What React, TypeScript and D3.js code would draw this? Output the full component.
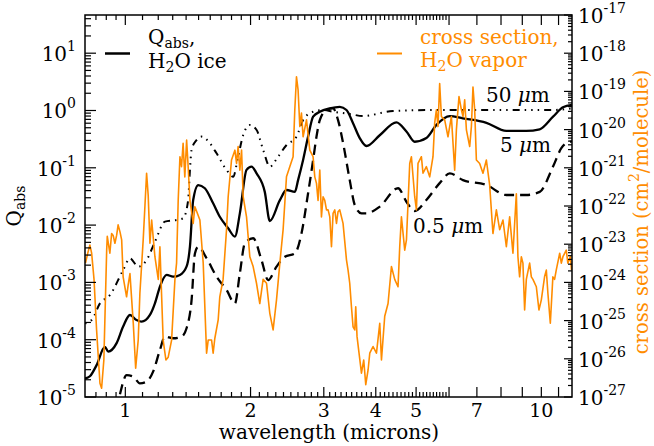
import React from 'react';
import * as d3 from 'd3';

const ORANGE = '#ff8c00';
const FONT = 'DejaVu Serif';

// Absorption efficiency of H2O ice grains: [wavelength (microns), Q_abs]
const ice50um: [number, number][] = [
  [0.8, 1.93e-4], [0.83, 2.2e-4], [0.869, 4.3e-4], [0.918, 6.0e-4], [0.988, 1.64e-3], [1.026, 2.64e-3],
  [1.074, 1.88e-3], [1.125, 2.46e-3], [1.178, 5.1e-3], [1.245, 0.0115], [1.328, 0.0123], [1.377, 0.0131],
  [1.416, 0.0274], [1.43, 0.092], [1.443, 0.205], [1.483, 0.305], [1.525, 0.35], [1.597, 0.268],
  [1.657, 0.179], [1.751, 0.092], [1.816, 0.07], [1.867, 0.156], [1.92, 0.373], [1.992, 0.558],
  [2.068, 0.457], [2.145, 0.205], [2.225, 0.1045], [2.329, 0.156], [2.441, 0.25], [2.579, 0.349],
  [2.675, 0.683], [2.828, 0.953], [2.988, 1.02], [3.158, 0.953], [3.463, 0.87], [3.728, 0.8],
  [4.4, 0.98], [5.49, 1.02], [7.38, 1.02], [10.67, 1.02], [11.85, 1.09],
];

const ice5um: [number, number][] = [
  [0.8, 2.1e-5], [0.822, 2.3e-5], [0.853, 3.6e-5], [0.893, 7.5e-5], [0.91, 6.2e-5], [0.953, 8.7e-5],
  [0.988, 1.7e-4], [1.026, 2.7e-4], [1.064, 2.2e-4], [1.094, 2.06e-4], [1.146, 2.7e-4], [1.178, 4.3e-4],
  [1.211, 8.4e-4], [1.257, 1.35e-3], [1.303, 1.26e-3], [1.353, 1.35e-3], [1.404, 1.9e-3], [1.43, 4.2e-3],
  [1.456, 0.0274], [1.497, 0.05], [1.553, 0.044], [1.626, 0.024], [1.687, 0.014], [1.767, 8.8e-3],
  [1.834, 6.3e-3], [1.885, 0.016], [1.956, 0.092], [2.011, 0.105], [2.068, 0.08], [2.164, 0.038],
  [2.225, 0.0118], [2.351, 0.027], [2.441, 0.041], [2.556, 0.038], [2.602, 0.061], [2.675, 0.137],
  [2.75, 0.35], [2.828, 0.78], [2.934, 0.95], [3.1, 1.09], [3.278, 1.16], [3.401, 1.02],
  [3.527, 0.6], [3.66, 0.33], [3.798, 0.24], [4.088, 0.37], [4.484, 0.62], [4.739, 0.43],
  [4.962, 0.285], [5.293, 0.33], [5.595, 0.56], [6.022, 0.8], [6.48, 0.73], [7.38, 0.61],
  [8.24, 0.44], [9.2, 0.44], [9.91, 0.47], [10.67, 0.78], [11.27, 1.14], [11.85, 1.25],
];

const ice05um: [number, number][] = [
  [0.95, 6e-6], [0.967, 1.0e-5], [1.007, 2.4e-5], [1.045, 2.26e-5], [1.084, 1.73e-5], [1.125, 1.85e-5],
  [1.167, 2.8e-5], [1.211, 6.6e-5], [1.245, 1.13e-4], [1.303, 1.06e-4], [1.365, 1.13e-4], [1.404, 1.6e-4],
  [1.443, 4.9e-4], [1.47, 3.2e-3], [1.497, 4.2e-3], [1.568, 2.64e-3], [1.657, 1.26e-3], [1.751, 7.4e-4],
  [1.834, 4.3e-4], [1.885, 1.44e-3], [1.938, 4.8e-3], [2.029, 5.9e-3], [2.125, 2.46e-3], [2.204, 1.1e-3],
  [2.309, 1.88e-3], [2.418, 2.8e-3], [2.556, 3.2e-3], [2.652, 7.2e-3], [2.75, 0.036], [2.828, 0.137],
  [2.881, 0.35], [2.934, 0.68], [3.044, 1.02], [3.158, 1.09], [3.246, 0.68], [3.338, 0.27],
  [3.463, 0.061], [3.561, 0.0224], [3.696, 0.016], [3.798, 0.016], [4.088, 0.021], [4.524, 0.044],
  [4.739, 0.0256], [4.962, 0.0176], [5.293, 0.0274], [5.696, 0.054], [6.022, 0.08], [6.48, 0.061],
  [7.38, 0.05], [8.24, 0.0335], [9.2, 0.0335], [9.91, 0.038], [10.67, 0.105], [11.17, 0.22],
  [11.69, 0.285], [11.85, 0.29],
];

// H2O vapor absorption cross section: [wavelength (microns), cm^2/molecule]
const vapor: [number, number][] = [
  [0.802, 3.2e-24], [0.814, 6.4e-24], [0.822, 9.5e-24], [0.83, 5.8e-24], [0.841, 1.2e-24], [0.853, 5.7e-26],
  [0.869, 2.3e-27], [0.877, 1.7e-27], [0.888, 9.3e-27], [0.902, 7.0e-24], [0.905, 1.6e-23], [0.918, 5.8e-24],
  [0.927, 1.9e-23], [0.935, 1.7e-23], [0.944, 1.06e-23], [0.953, 1.7e-23], [0.961, 3.2e-23], [0.971, 2.1e-23],
  [0.98, 1.3e-23], [0.988, 1.4e-24], [1.007, 4.2e-25], [1.016, 8.6e-25], [1.026, 1.7e-24], [1.045, 8.5e-26],
  [1.059, 5.7e-27], [1.074, 3.1e-26], [1.084, 5.2e-25], [1.104, 1.3e-23], [1.115, 1.06e-22], [1.125, 7.2e-22],
  [1.135, 1.9e-22], [1.146, 1.06e-23], [1.157, 4.3e-23], [1.178, 4.7e-24], [1.2, 1.2e-24], [1.211, 8.6e-24],
  [1.233, 3.1e-26], [1.252, 9.3e-27], [1.268, 1.1e-26], [1.292, 3.1e-26], [1.316, 1.2e-24], [1.328, 3.2e-24],
  [1.34, 1.4e-22], [1.353, 1.95e-21], [1.365, 1.07e-21], [1.377, 4.4e-21], [1.39, 5.8e-22], [1.404, 5.3e-21],
  [1.416, 1.07e-21], [1.43, 1.4e-22], [1.456, 3.5e-23], [1.47, 9.6e-23], [1.511, 4.3e-23], [1.539, 3.2e-24],
  [1.568, 1.4e-26], [1.582, 3.1e-26], [1.612, 3.1e-26], [1.626, 1.4e-26], [1.641, 3.4e-26], [1.672, 1.04e-25],
  [1.687, 4.2e-25], [1.718, 1.2e-24], [1.751, 2.4e-23], [1.767, 1.75e-22], [1.8, 1.6e-21], [1.834, 2.9e-21],
  [1.851, 1.3e-21], [1.867, 3.6e-21], [1.885, 8.7e-22], [1.903, 2.9e-21], [1.92, 1.75e-22], [1.956, 5.2e-23],
  [1.992, 4.7e-24], [2.029, 2.6e-24], [2.067, 9.5e-25], [2.105, 2.8e-25], [2.144, 1.2e-24], [2.185, 9.5e-25],
  [2.225, 1.55e-25], [2.266, 5.7e-26], [2.309, 3.5e-25], [2.352, 3.2e-24], [2.395, 2.4e-23], [2.44, 5.8e-22],
  [2.485, 1.07e-21], [2.531, 1.95e-21], [2.555, 3.3e-20], [2.579, 2.4e-19], [2.602, 1.09e-19], [2.627, 1.2e-20],
  [2.651, 2.7e-20], [2.675, 6.5e-21], [2.726, 1.8e-20], [2.776, 2.9e-21], [2.827, 1.95e-21], [2.854, 5.8e-22],
  [2.881, 3.9e-22], [2.906, 1.4e-22], [2.934, 8.7e-22], [2.961, 5.2e-23], [2.988, 1.75e-22], [3.016, 1.4e-22],
  [3.045, 7.9e-23], [3.072, 7.9e-23], [3.101, 5.2e-23], [3.13, 8.6e-24], [3.158, 6.4e-23], [3.188, 7.9e-23],
  [3.218, 3.5e-23], [3.246, 7.1e-23], [3.277, 7.9e-23], [3.308, 5.2e-23], [3.337, 3.5e-23], [3.401, 3.9e-24],
  [3.431, 2.1e-24], [3.463, 9.5e-25], [3.496, 2.3e-25], [3.527, 6.9e-26], [3.561, 5.7e-26], [3.58, 2.3e-25],
  [3.606, 3.8e-26], [3.646, 1.4e-26], [3.695, 4.2e-27], [3.742, 9.3e-27], [3.784, 2.1e-27], [3.833, 5.1e-27],
  [3.869, 1.4e-26], [3.94, 2.1e-26], [4.015, 1.4e-26], [4.089, 8.5e-26], [4.128, 9.3e-27], [4.203, 1.3e-25],
  [4.281, 2.8e-25], [4.362, 2.6e-24], [4.442, 1.2e-24], [4.524, 7.7e-25], [4.567, 8.6e-24], [4.61, 5.2e-23],
  [4.695, 7.0e-24], [4.74, 1.3e-23], [4.827, 1.3e-21], [4.872, 1.95e-21], [4.962, 1.75e-22], [5.009, 7.9e-23],
  [5.053, 1.3e-21], [5.149, 1.95e-21], [5.195, 7.2e-22], [5.293, 1.07e-21], [5.391, 5.8e-22], [5.49, 1.95e-21],
  [5.542, 1.5e-20], [5.594, 3.3e-20], [5.644, 1.2e-20], [5.697, 1.6e-19], [5.751, 2.2e-20], [5.857, 1.8e-20],
  [5.965, 6.5e-21], [6.078, 2.2e-20], [6.19, 8.7e-22], [6.249, 9.8e-21], [6.34, 7.3e-20], [6.425, 3.3e-20],
  [6.482, 2.2e-20], [6.543, 6.0e-20], [6.605, 9.8e-21], [6.727, 3.6e-21], [6.79, 1.2e-20], [6.85, 1.3e-19],
  [6.915, 3.3e-20], [6.98, 1.6e-21], [7.108, 1.3e-21], [7.24, 7.2e-22], [7.377, 1.6e-21], [7.513, 3.5e-22],
  [7.651, 1.9e-23], [7.797, 7.9e-23], [7.941, 2.4e-23], [8.087, 4.3e-23], [8.24, 8.6e-24], [8.392, 5.2e-23],
  [8.546, 5.8e-24], [8.708, 2.1e-22], [8.785, 4.7e-24], [8.868, 1.4e-24], [8.952, 4.7e-24], [9.032, 3.2e-24],
  [9.117, 1.9e-25], [9.203, 1.2e-24], [9.373, 3.2e-24], [9.462, 1.4e-24], [9.546, 1.2e-24], [9.727, 7.7e-25],
  [9.868, 1.9e-25], [10.0, 3.5e-25], [10.18, 1.4e-24], [10.28, 2.1e-24], [10.37, 5.2e-25], [10.51, 8.5e-26],
  [10.66, 1.4e-24], [10.76, 1.2e-24], [10.86, 2.1e-24], [11.07, 5.8e-24], [11.17, 3.2e-24], [11.27, 4.7e-24],
  [11.48, 7.0e-24], [11.58, 3.2e-24], [11.74, 4.7e-24], [11.82, 2.1e-24],
];

// Axis ticks
const qExponents = [-5, -4, -3, -2, -1, 0, 1];
const sigmaExponents = [-27, -26, -25, -24, -23, -22, -21, -20, -19, -18, -17];
const waveMajor = [1, 2, 3, 4, 5, 6, 7, 8, 9, 10, 11];
const waveLabels = [1, 2, 3, 4, 5, 7, 10];

const W = 654;
const H = 446;
const L = 85;
const R = 572;
const T = 15;
const B = 397;

const x = d3.scaleLog().domain([0.8, 11.85]).range([L, R]);
const yQ = d3.scaleLog().domain([1e-5, 46.4]).range([B, T]);
const yS = d3.scaleLog().domain([1e-27, 1e-17]).range([B, T]);

const waveMinor: number[] = [
  0.85, 0.9, 0.95,
  ...[1, 2, 3, 4, 5].flatMap((k) => d3.range(1, 10).map((j) => +(k + j / 10).toFixed(1))),
];

const logMinor = (lo: number, hi: number, domain: [number, number]) => {
  const out: number[] = [];
  for (let e = lo; e <= hi; e++) {
    for (let k = 2; k <= 9; k++) {
      const v = k * Math.pow(10, e);
      if (v >= domain[0] && v <= domain[1]) out.push(v);
    }
  }
  return out;
};

const qMinor = logMinor(-5, 1, [1e-5, 46.4]);
const sMinor = logMinor(-27, -18, [1e-27, 1e-17]);

const iceLine = d3
  .line<[number, number]>()
  .x((d) => x(d[0]))
  .y((d) => yQ(d[1]))
  .curve(d3.curveMonotoneX);

const vaporLine = d3
  .line<[number, number]>()
  .x((d) => x(d[0]))
  .y((d) => yS(d[1]));

const tickStroke = { stroke: '#000', strokeWidth: 1.2 };

export default function App() {
  return (
    <svg
      width={W}
      height={H}
      style={{ position: 'absolute', left: 0, top: 0, background: '#fff' }}
      fontFamily={FONT}
    >
      <defs>
        <clipPath id="plot-area">
          <rect x={L} y={T} width={R - L} height={B - T} />
        </clipPath>
      </defs>
      <rect x={0} y={0} width={W} height={H} fill="#fff" />

      {/* curves */}
      <g clipPath="url(#plot-area)" fill="none">
        <path d={iceLine(ice50um) ?? ''} stroke="#000" strokeWidth={2} strokeDasharray="1.5,5,1.5,5,1.5,5,7,5" />
        <path d={iceLine(ice5um) ?? ''} stroke="#000" strokeWidth={2.3} />
        <path d={iceLine(ice05um) ?? ''} stroke="#000" strokeWidth={2.3} strokeDasharray="10,6" />
        <path d={vaporLine(vapor) ?? ''} stroke={ORANGE} strokeWidth={1.6} strokeLinejoin="round" />
      </g>

      {/* x ticks, bottom and top */}
      <g>
        {waveMajor.map((v) => (
          <g key={'xM' + v}>
            <line x1={x(v)} x2={x(v)} y1={B} y2={B - 10} {...tickStroke} />
            <line x1={x(v)} x2={x(v)} y1={T} y2={T + 10} {...tickStroke} />
          </g>
        ))}
        {waveMinor.map((v) => (
          <g key={'xm' + v}>
            <line x1={x(v)} x2={x(v)} y1={B} y2={B - 5} {...tickStroke} />
            <line x1={x(v)} x2={x(v)} y1={T} y2={T + 5} {...tickStroke} />
          </g>
        ))}
        {waveLabels.map((v) => (
          <text key={'xl' + v} x={x(v)} y={417} textAnchor="middle" fontSize={19}>
            {v}
          </text>
        ))}
      </g>

      {/* left axis: Q_abs */}
      <g>
        {qExponents.map((e) => (
          <g key={'qM' + e}>
            <line x1={L} x2={L + 11} y1={yQ(Math.pow(10, e))} y2={yQ(Math.pow(10, e))} {...tickStroke} />
            <text x={76} y={yQ(Math.pow(10, e)) + 8} textAnchor="end" fontSize={20}>
              10
              <tspan fontSize={14} dy={-10}>
                {String(e)}
              </tspan>
            </text>
          </g>
        ))}
        {qMinor.map((v) => (
          <line key={'qm' + v} x1={L} x2={L + 6} y1={yQ(v)} y2={yQ(v)} {...tickStroke} />
        ))}
      </g>

      {/* right axis: cross section */}
      <g>
        {sigmaExponents.map((e) => (
          <g key={'sM' + e}>
            <line x1={R} x2={R - 8} y1={yS(Math.pow(10, e))} y2={yS(Math.pow(10, e))} {...tickStroke} />
            <text x={578} y={yS(Math.pow(10, e)) + 8} textAnchor="start" fontSize={20}>
              10
              <tspan fontSize={14} dy={-10}>
                {String(e)}
              </tspan>
            </text>
          </g>
        ))}
        {sMinor.map((v) => (
          <line key={'sm' + v} x1={R} x2={R - 4} y1={yS(v)} y2={yS(v)} {...tickStroke} />
        ))}
      </g>

      {/* frame */}
      <rect x={L} y={T} width={R - L} height={B - T} fill="none" stroke="#000" strokeWidth={1.5} />

      {/* axis titles */}
      <text x={329} y={439} textAnchor="middle" fontSize={20}>
        wavelength (microns)
      </text>
      <text transform="translate(21,206) rotate(-90)" textAnchor="middle" fontSize={20}>
        Q
        <tspan fontSize={14} dy={4}>
          abs
        </tspan>
      </text>
      <text transform="translate(648,212) rotate(-90)" textAnchor="middle" fontSize={19.5} fill={ORANGE}>
        cross section (cm
        <tspan fontSize={14} dy={-9}>
          2
        </tspan>
        <tspan dy={9}>/molecule)</tspan>
      </text>

      {/* legend */}
      <line x1={105} x2={130} y1={53.5} y2={53.5} stroke="#000" strokeWidth={2.5} />
      <text x={148} y={44} fontSize={20}>
        Q
        <tspan fontSize={14} dy={4}>
          abs
        </tspan>
        <tspan dy={-4}>,</tspan>
      </text>
      <text x={148} y={68} fontSize={20}>
        H
        <tspan fontSize={14} dy={4}>
          2
        </tspan>
        <tspan dy={-4}>O ice</tspan>
      </text>
      <line x1={377} x2={402} y1={53.5} y2={53.5} stroke={ORANGE} strokeWidth={2} />
      <text x={420} y={44} fontSize={20} fill={ORANGE}>
        cross section,
      </text>
      <text x={420} y={67} fontSize={20} fill={ORANGE}>
        H
        <tspan fontSize={14} dy={4}>
          2
        </tspan>
        <tspan dy={-4}>O vapor</tspan>
      </text>

      {/* grain size annotations */}
      <text x={486} y={102} fontSize={20}>
        50 <tspan fontStyle="italic">μ</tspan>m
      </text>
      <text x={500} y={152} fontSize={20}>
        5 <tspan fontStyle="italic">μ</tspan>m
      </text>
      <text x={413} y={233} fontSize={20}>
        0.5 <tspan fontStyle="italic">μ</tspan>m
      </text>
    </svg>
  );
}
